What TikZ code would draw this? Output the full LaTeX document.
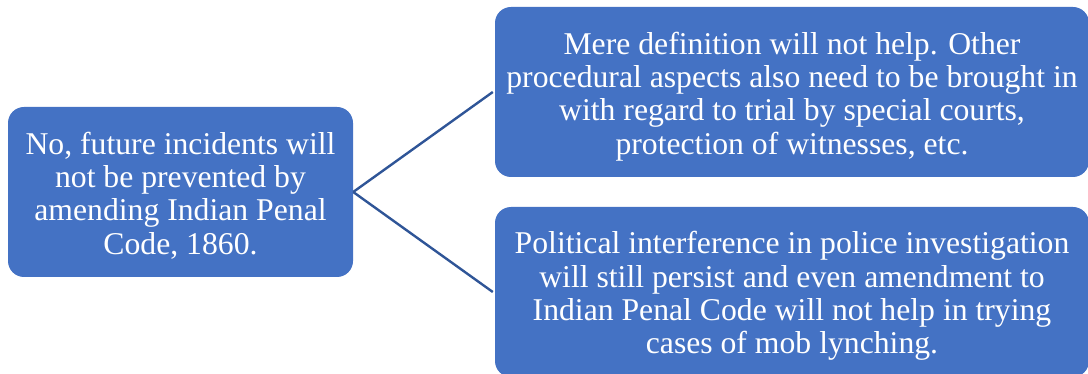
\documentclass[tikz,border=0pt]{standalone}
\usepackage{fontspec}
\setmainfont{Liberation Serif}
\begin{document}
\begin{tikzpicture}[x=1pt,y=-1pt,
  box/.style={fill=boxblue, draw=none, rounded corners=16pt, inner sep=0pt,
    minimum height=170pt},
  label text/.style={text=white, align=center, inner sep=0pt,
    font=\fontsize{31.7}{33.3}\selectfont},
  link/.style={draw=lineblue, line width=2.4pt}]
  \definecolor{boxblue}{HTML}{4472C4}
  \definecolor{lineblue}{HTML}{2F5597}
  \useasboundingbox (0,0) rectangle (1088,374);
  \clip (0,0) rectangle (1088,374);
  % boxes
  \node[box, minimum width=345pt] (q) at (180.5,192) {};
  \node[box, minimum width=594pt] (a) at (792,92) {};
  \node[box, minimum width=594pt] (b) at (792,292) {};
  % box texts
  \node[label text] (qt) at ([yshift=-3.5pt]q.center)
    {No, future incidents will\\not be prevented by\\amending Indian Penal\\Code, 1860.};
  \node[label text] (at) at ([yshift=-4.5pt]a.center)
    {Mere definition will not help. Other\\procedural aspects also need to be brought in\\with regard to trial by special courts,\\protection of witnesses, etc.};
  \node[label text] (bt) at ([yshift=-4pt]b.center)
    {Political interference in police investigation\\will still persist and even amendment to\\Indian Penal Code will not help in trying\\cases of mob lynching.};
  % connectors
  \draw[link] (q.east) -- ([xshift=-2pt]a.west);
  \draw[link] (q.east) -- ([xshift=-2pt]b.west);
\end{tikzpicture}
\end{document}
